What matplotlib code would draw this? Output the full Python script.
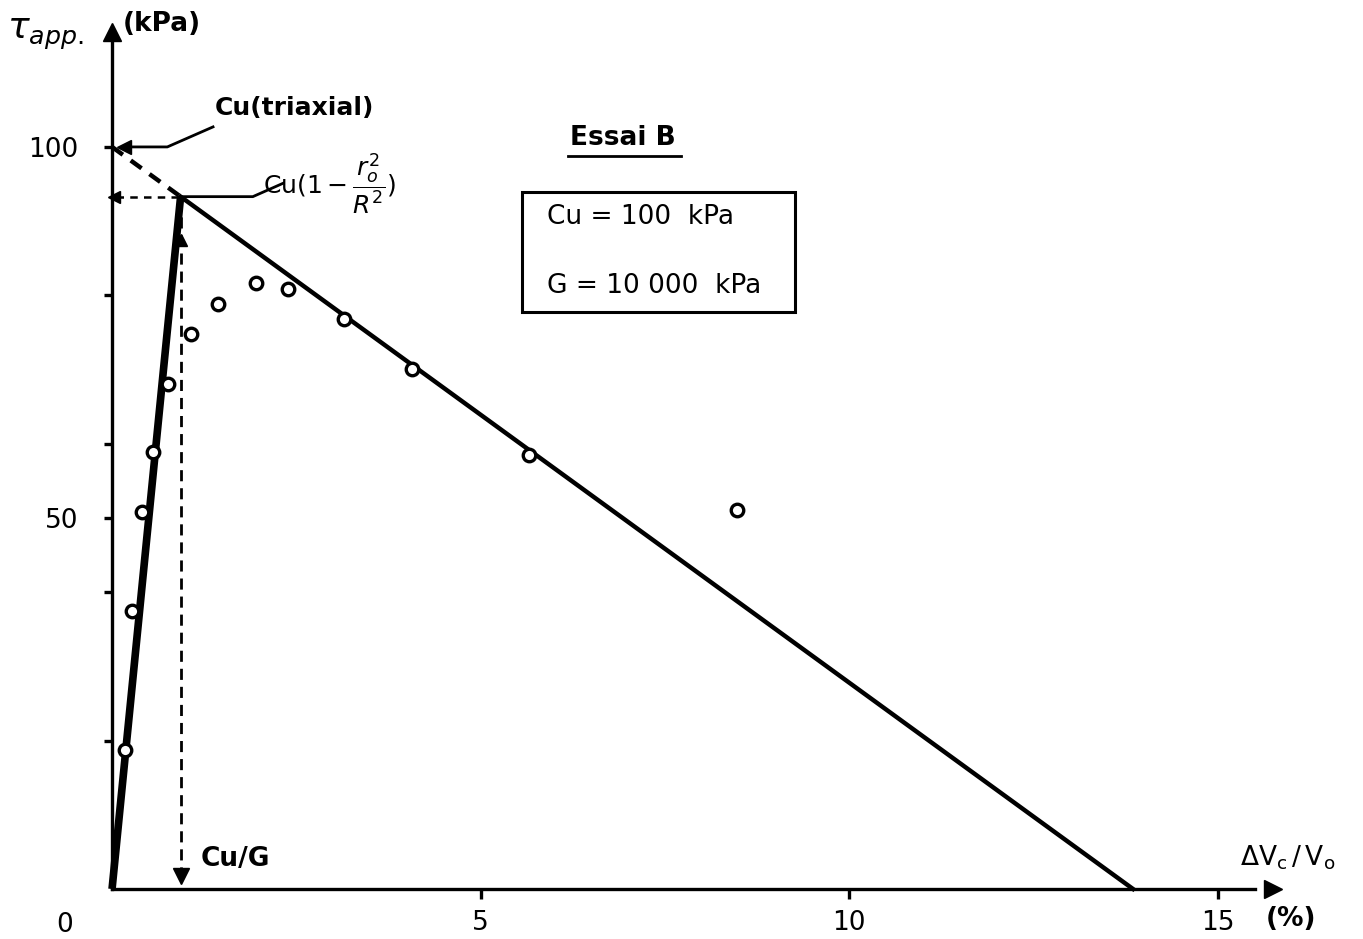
"""Essai B: apparent shear stress vs volumetric strain (pressuremeter-type test)."""
import matplotlib
matplotlib.use("Agg")
import matplotlib.pyplot as plt
from matplotlib.patches import Rectangle

plt.rcParams["font.family"] = ["DejaVu Sans"]
plt.rcParams["mathtext.fontset"] = "dejavusans"

# measured points (open circles)
strain = [0.18, 0.27, 0.41, 0.56, 0.76, 1.07, 1.44, 1.95, 2.39, 3.15, 4.07, 5.66, 8.48]
tau = [18.7, 37.5, 50.8, 58.9, 68.1, 74.8, 78.8, 81.7, 80.9, 76.8, 70.1, 58.5, 51.1]

# theoretical curve: elastic rise, then linear softening to zero
theory_x = [0.0, 0.93, 13.85]
theory_y = [0.0, 93.3, 0.0]
cu = 100.0            # Cu (triaxial)
cu_red = 93.3         # Cu(1 - r0^2/R^2)
cu_g = 0.93           # Cu/G in %

yticks = [20, 40, 50, 60, 80, 100]
ytick_labels = ["", "", "50", "", "", "100"]
xticks = [5, 10, 15]
xtick_labels = ["5", "10", "15"]

FS = 19
fig = plt.figure(figsize=(13.63, 9.39), dpi=100)
ax = fig.add_axes([0, 0, 1, 1])
ax.set_xlim(-1.52, 16.97)
ax.set_ylim(-6.74, 119.8)

# axes drawn as arrows from the origin
for s in ("top", "right"):
    ax.spines[s].set_visible(False)
ax.spines["left"].set_position(("data", 0))
ax.spines["bottom"].set_position(("data", 0))
ax.spines["left"].set_bounds(0, 114)
ax.spines["bottom"].set_bounds(0, 15.5)
ax.spines["left"].set_linewidth(2.4)
ax.spines["bottom"].set_linewidth(2.4)
ax.plot([0], [115.5], marker="^", ms=13, color="k", clip_on=False)
ax.plot([15.75], [0], marker=">", ms=13, color="k", clip_on=False)

ax.set_yticks(yticks)
ax.set_yticklabels(ytick_labels, fontsize=FS)
ax.set_xticks(xticks)
ax.set_xticklabels(xtick_labels, fontsize=FS)
ax.tick_params(axis="y", direction="out", length=6, width=2.4, pad=18)
ax.tick_params(axis="x", direction="out", length=7, width=2.4, pad=8)

# theoretical lines
ax.plot(theory_x[:2], theory_y[:2], color="k", lw=5.5, solid_capstyle="butt")
ax.plot(theory_x[1:], theory_y[1:], color="k", lw=3.2)

# dashed construction lines
ax.plot([0, cu_g], [cu, cu_red], color="k", lw=3.2, ls=(0, (3, 2.2)))
ax.plot([0.05, cu_g], [cu_red, cu_red], color="k", lw=1.8, ls=(0, (3, 2.5)))
ax.plot([0.03], [cu_red], marker="<", ms=9, color="k")
ax.plot([cu_g, cu_g], [1.5, cu_red], color="k", lw=2, ls=(0, (4, 2.5)))
ax.plot([cu_g], [1.8], marker="v", ms=11, color="k")
ax.plot([cu_g], [87.5], marker="^", ms=8, color="k")

# measured points
ax.plot(strain, tau, "o", ms=9, mfc="white", mec="k", mew=2.4, zorder=5)

# annotations
ax.plot([1.37, 0.75, 0.2], [102.7, 100, 100], color="k", lw=2)
ax.plot([0.16], [100], marker="<", ms=10, color="k")
ax.text(1.40, 105.3, "Cu(triaxial)", fontsize=18, fontweight="bold", va="center")
ax.plot([2.32, 1.91, cu_g], [95.1, 93.3, 93.3], color="k", lw=2)
ax.text(2.05, 95.0, r"Cu$(1-\dfrac{r_o^2}{R^2})$", fontsize=18, va="center")

ax.text(1.2, 4.0, "Cu/G", fontsize=FS, fontweight="bold", va="center")
ax.text(-0.64, -4.8, "0", fontsize=FS, ha="center", va="center")
ax.text(16.0, -4.0, "(%)", fontsize=FS, fontweight="bold", ha="center", va="center")
ax.text(15.95, 4.2, r"$\Delta\mathrm{V_c}\,/\,\mathrm{V_o}$", fontsize=FS, ha="center", va="center")
ax.text(-0.9, 115.2, r"$\tau_{app.}$", fontsize=26, ha="center", va="center")
ax.text(0.68, 116.5, "(kPa)", fontsize=FS, fontweight="bold", ha="center", va="center")

# title and parameter box
ax.text(6.93, 101.2, "Essai B", fontsize=FS, fontweight="bold", ha="center", va="center")
ax.plot([6.18, 7.72], [98.8, 98.8], color="k", lw=2)
ax.add_patch(Rectangle((5.56, 77.7), 3.7, 16.2, fill=False, lw=2.2, ec="k"))
ax.text(5.9, 90.5, "Cu = 100  kPa", fontsize=FS, va="center")
ax.text(5.9, 81.2, "G = 10 000  kPa", fontsize=FS, va="center")

fig.savefig("out.png", dpi=100)
